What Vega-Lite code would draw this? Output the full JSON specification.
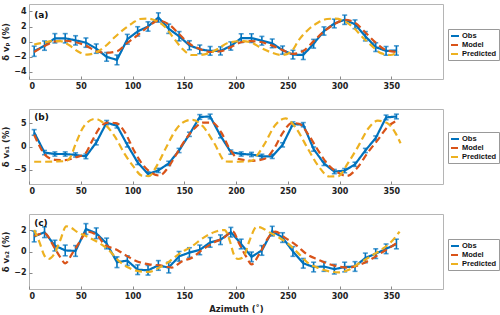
{
  "$schema": "https://vega.github.io/schema/vega-lite/v6.json",
  "padding": {"left": 1, "top": 3, "right": 0, "bottom": 0},
  "spacing": 17,
  "config": {
    "font": "DejaVu Sans",
    "view": {"stroke": "#b5b5b5", "strokeWidth": 1},
    "axis": {"grid": false, "domain": false, "tickSize": -3, "tickColor": "#888888", "labelPadding": 6, "labelOverlap": false, "labelFontSize": 8, "labelFontWeight": "bold", "labelColor": "#222222", "titleFontSize": 8.5, "titleFontWeight": "bold", "titleColor": "#222222"},
    "axisY": {"titlePadding": 3},
    "axisX": {"titlePadding": 4},
    "legend": {"orient": "none", "legendX": 419, "title": null, "strokeColor": "#999999", "fillColor": "white", "padding": 2, "rowPadding": -1, "labelFont": "Liberation Sans", "labelFontSize": 7.5, "labelFontWeight": "bold", "labelColor": "#111111", "symbolType": "stroke", "symbolStrokeWidth": 2, "symbolSize": 64, "labelOffset": 2, "labelLimit": 60}
  },
  "resolve": {"scale": {"color": "independent", "strokeDash": "independent"}, "legend": {"color": "independent", "strokeDash": "independent"}},
  "vconcat": [
    {
      "width": 414, "height": 75,
      "data": {"values": [
        {"az":5,"v":-1.3,"e":0.68,"s":"Obs"},{"az":15,"v":-0.55,"e":0.62,"s":"Obs"},{"az":25,"v":0.43,"e":0.62,"s":"Obs"},{"az":35,"v":0.43,"e":0.62,"s":"Obs"},{"az":45,"v":0.15,"e":0.62,"s":"Obs"},{"az":55,"v":-0.15,"e":0.62,"s":"Obs"},{"az":65,"v":-0.95,"e":0.62,"s":"Obs"},{"az":75,"v":-2.05,"e":0.58,"s":"Obs"},{"az":85,"v":-2.45,"e":0.65,"s":"Obs"},{"az":95,"v":0.3,"e":0.65,"s":"Obs"},{"az":105,"v":1.35,"e":0.62,"s":"Obs"},{"az":115,"v":2.0,"e":0.62,"s":"Obs"},{"az":125,"v":3.2,"e":0.62,"s":"Obs"},{"az":135,"v":1.7,"e":0.62,"s":"Obs"},{"az":145,"v":0.7,"e":0.62,"s":"Obs"},{"az":155,"v":-0.5,"e":0.6,"s":"Obs"},{"az":165,"v":-1.05,"e":0.58,"s":"Obs"},{"az":175,"v":-1.25,"e":0.58,"s":"Obs"},{"az":185,"v":-1.25,"e":0.55,"s":"Obs"},{"az":195,"v":-0.6,"e":0.55,"s":"Obs"},{"az":205,"v":0.45,"e":0.58,"s":"Obs"},{"az":215,"v":0.45,"e":0.58,"s":"Obs"},{"az":225,"v":0.1,"e":0.58,"s":"Obs"},{"az":235,"v":-0.25,"e":0.58,"s":"Obs"},{"az":245,"v":-1.15,"e":0.55,"s":"Obs"},{"az":255,"v":-1.75,"e":0.58,"s":"Obs"},{"az":265,"v":-1.8,"e":0.6,"s":"Obs"},{"az":275,"v":-0.3,"e":0.58,"s":"Obs"},{"az":285,"v":1.4,"e":0.55,"s":"Obs"},{"az":295,"v":2.4,"e":0.58,"s":"Obs"},{"az":305,"v":2.9,"e":0.62,"s":"Obs"},{"az":315,"v":2.3,"e":0.58,"s":"Obs"},{"az":325,"v":0.7,"e":0.62,"s":"Obs"},{"az":335,"v":-0.75,"e":0.58,"s":"Obs"},{"az":345,"v":-1.25,"e":0.58,"s":"Obs"},{"az":355,"v":-1.2,"e":0.62,"s":"Obs"},
        {"az":5,"v":-1.4,"s":"Model"},{"az":15,"v":-0.6,"s":"Model"},{"az":25,"v":0.0,"s":"Model"},{"az":35,"v":0.1,"s":"Model"},{"az":45,"v":-0.1,"s":"Model"},{"az":55,"v":-0.55,"s":"Model"},{"az":65,"v":-1.3,"s":"Model"},{"az":75,"v":-1.5,"s":"Model"},{"az":85,"v":-1.3,"s":"Model"},{"az":95,"v":-0.2,"s":"Model"},{"az":105,"v":0.85,"s":"Model"},{"az":115,"v":1.95,"s":"Model"},{"az":125,"v":2.8,"s":"Model"},{"az":135,"v":2.3,"s":"Model"},{"az":145,"v":1.0,"s":"Model"},{"az":155,"v":-0.3,"s":"Model"},{"az":165,"v":-1.0,"s":"Model"},{"az":175,"v":-1.4,"s":"Model"},{"az":185,"v":-1.3,"s":"Model"},{"az":195,"v":-0.75,"s":"Model"},{"az":205,"v":-0.1,"s":"Model"},{"az":215,"v":0.05,"s":"Model"},{"az":225,"v":-0.1,"s":"Model"},{"az":235,"v":-0.55,"s":"Model"},{"az":245,"v":-1.15,"s":"Model"},{"az":255,"v":-1.65,"s":"Model"},{"az":265,"v":-1.25,"s":"Model"},{"az":275,"v":0.05,"s":"Model"},{"az":285,"v":1.35,"s":"Model"},{"az":295,"v":2.3,"s":"Model"},{"az":305,"v":2.9,"s":"Model"},{"az":315,"v":2.5,"s":"Model"},{"az":325,"v":1.2,"s":"Model"},{"az":335,"v":-0.15,"s":"Model"},{"az":345,"v":-1.15,"s":"Model"},{"az":355,"v":-1.4,"s":"Model"},
        {"az":5,"v":-0.4,"s":"Predicted"},{"az":14,"v":-0.15,"s":"Predicted"},{"az":23,"v":0.05,"s":"Predicted"},{"az":30,"v":0.05,"s":"Predicted"},{"az":39,"v":-0.5,"s":"Predicted"},{"az":47,"v":-1.3,"s":"Predicted"},{"az":56,"v":-1.75,"s":"Predicted"},{"az":65,"v":-1.45,"s":"Predicted"},{"az":74,"v":-0.6,"s":"Predicted"},{"az":83,"v":0.6,"s":"Predicted"},{"az":91,"v":1.55,"s":"Predicted"},{"az":100,"v":2.45,"s":"Predicted"},{"az":107,"v":3.0,"s":"Predicted"},{"az":115,"v":3.05,"s":"Predicted"},{"az":122,"v":2.8,"s":"Predicted"},{"az":131,"v":2.0,"s":"Predicted"},{"az":139,"v":0.6,"s":"Predicted"},{"az":148,"v":-0.95,"s":"Predicted"},{"az":157,"v":-1.8,"s":"Predicted"},{"az":165,"v":-1.8,"s":"Predicted"},{"az":174,"v":-1.55,"s":"Predicted"},{"az":183,"v":-0.95,"s":"Predicted"},{"az":192,"v":-0.2,"s":"Predicted"},{"az":206,"v":0.05,"s":"Predicted"},{"az":215,"v":-0.15,"s":"Predicted"},{"az":224,"v":-0.85,"s":"Predicted"},{"az":234,"v":-1.45,"s":"Predicted"},{"az":244,"v":-1.8,"s":"Predicted"},{"az":253,"v":-1.4,"s":"Predicted"},{"az":261,"v":0.25,"s":"Predicted"},{"az":270,"v":1.6,"s":"Predicted"},{"az":279,"v":2.5,"s":"Predicted"},{"az":288,"v":3.0,"s":"Predicted"},{"az":296,"v":3.05,"s":"Predicted"},{"az":305,"v":2.7,"s":"Predicted"},{"az":314,"v":1.8,"s":"Predicted"},{"az":322,"v":0.6,"s":"Predicted"},{"az":331,"v":-0.55,"s":"Predicted"},{"az":340,"v":-1.55,"s":"Predicted"},{"az":349,"v":-1.8,"s":"Predicted"},{"az":357,"v":-1.35,"s":"Predicted"}
      ]},
      "layer": [
        {"transform": [{"filter": "datum.s == 'Obs'"}], "mark": {"type": "errorbar", "ticks": {"size": 5}, "color": "#0072BD", "thickness": 1.6},
         "encoding": {"x": {"field": "az", "type": "quantitative", "scale": {"domain": [0, 360]}, "axis": {"values": [0,50,100,150,200,250,300,350]}, "title": null}, "y": {"field": "v", "type": "quantitative", "scale": {"domain": [-4.5, 4.5]}, "axis": {"tickCount": 5}, "title": "δ vₚ (%)"}, "yError": {"field": "e"}}},
        {"transform": [{"filter": "datum.s == 'Obs'"}], "mark": {"type": "line", "strokeWidth": 2.2},
         "encoding": {"x": {"field": "az", "type": "quantitative", "title": null}, "y": {"field": "v", "type": "quantitative", "title": "δ vₚ (%)"},
          "color": {"field": "s", "type": "nominal", "scale": {"domain": ["Obs","Model","Predicted"], "range": ["#0072BD","#D95319","#EDB120"]}, "legend": {"legendY": 25}},
          "strokeDash": {"field": "s", "type": "nominal", "scale": {"domain": ["Obs","Model","Predicted"], "range": [[1,0],[7,4],[7,4]]}, "legend": {"legendY": 25}}}},
        {"transform": [{"filter": "datum.s != 'Obs'"}], "mark": {"type": "line", "strokeWidth": 2.2, "interpolate": "monotone"},
         "encoding": {"x": {"field": "az", "type": "quantitative", "title": null}, "y": {"field": "v", "type": "quantitative", "title": "δ vₚ (%)"},
          "color": {"field": "s", "type": "nominal"},
          "strokeDash": {"field": "s", "type": "nominal"}}},
        {"data": {"values": [{"lab": "(a)"}]}, "mark": {"type": "text", "align": "left", "baseline": "middle", "fontWeight": "bold", "fontSize": 9, "color": "#111111"},
         "encoding": {"text": {"field": "lab"}, "x": {"datum": 5}, "y": {"datum": 3.5}}}
      ]
    },
    {
      "width": 414, "height": 75,
      "data": {"values": [
        {"az":5,"v":3.0,"e":0.6,"s":"Obs"},{"az":15,"v":-1.3,"e":0.45,"s":"Obs"},{"az":25,"v":-1.6,"e":0.45,"s":"Obs"},{"az":35,"v":-1.6,"e":0.45,"s":"Obs"},{"az":45,"v":-1.8,"e":0.45,"s":"Obs"},{"az":55,"v":-2.1,"e":0.5,"s":"Obs"},{"az":65,"v":0.85,"e":0.5,"s":"Obs"},{"az":75,"v":5.1,"e":0.45,"s":"Obs"},{"az":85,"v":4.4,"e":0.45,"s":"Obs"},{"az":95,"v":0.35,"e":0.45,"s":"Obs"},{"az":105,"v":-3.4,"e":0.45,"s":"Obs"},{"az":115,"v":-5.85,"e":0.45,"s":"Obs"},{"az":125,"v":-5.1,"e":0.45,"s":"Obs"},{"az":135,"v":-3.6,"e":0.45,"s":"Obs"},{"az":145,"v":-0.85,"e":0.45,"s":"Obs"},{"az":155,"v":2.6,"e":0.45,"s":"Obs"},{"az":165,"v":6.3,"e":0.5,"s":"Obs"},{"az":175,"v":6.4,"e":0.5,"s":"Obs"},{"az":185,"v":2.3,"e":0.45,"s":"Obs"},{"az":195,"v":-1.2,"e":0.45,"s":"Obs"},{"az":205,"v":-1.6,"e":0.45,"s":"Obs"},{"az":215,"v":-1.7,"e":0.45,"s":"Obs"},{"az":225,"v":-2.1,"e":0.45,"s":"Obs"},{"az":235,"v":-2.1,"e":0.45,"s":"Obs"},{"az":245,"v":0.35,"e":0.45,"s":"Obs"},{"az":255,"v":4.8,"e":0.45,"s":"Obs"},{"az":265,"v":4.65,"e":0.45,"s":"Obs"},{"az":275,"v":-0.55,"e":0.45,"s":"Obs"},{"az":285,"v":-3.6,"e":0.45,"s":"Obs"},{"az":295,"v":-5.35,"e":0.45,"s":"Obs"},{"az":305,"v":-5.15,"e":0.45,"s":"Obs"},{"az":315,"v":-3.8,"e":0.45,"s":"Obs"},{"az":325,"v":-0.85,"e":0.45,"s":"Obs"},{"az":335,"v":1.8,"e":0.45,"s":"Obs"},{"az":345,"v":6.2,"e":0.5,"s":"Obs"},{"az":355,"v":6.4,"e":0.5,"s":"Obs"},
        {"az":5,"v":2.5,"s":"Model"},{"az":17,"v":-2.1,"s":"Model"},{"az":26,"v":-2.85,"s":"Model"},{"az":35,"v":-2.9,"s":"Model"},{"az":45,"v":-2.3,"s":"Model"},{"az":54,"v":-1.6,"s":"Model"},{"az":61,"v":1.2,"s":"Model"},{"az":68,"v":3.9,"s":"Model"},{"az":76,"v":5.1,"s":"Model"},{"az":84,"v":5.0,"s":"Model"},{"az":93,"v":2.9,"s":"Model"},{"az":101,"v":-0.7,"s":"Model"},{"az":110,"v":-3.9,"s":"Model"},{"az":119,"v":-5.7,"s":"Model"},{"az":126,"v":-6.2,"s":"Model"},{"az":135,"v":-4.3,"s":"Model"},{"az":142,"v":-1.8,"s":"Model"},{"az":151,"v":1.4,"s":"Model"},{"az":160,"v":3.9,"s":"Model"},{"az":168,"v":5.1,"s":"Model"},{"az":177,"v":5.1,"s":"Model"},{"az":186,"v":2.9,"s":"Model"},{"az":194,"v":-0.6,"s":"Model"},{"az":203,"v":-2.7,"s":"Model"},{"az":216,"v":-3.05,"s":"Model"},{"az":228,"v":-2.6,"s":"Model"},{"az":237,"v":-0.35,"s":"Model"},{"az":245,"v":2.85,"s":"Model"},{"az":254,"v":5.0,"s":"Model"},{"az":261,"v":4.85,"s":"Model"},{"az":270,"v":2.5,"s":"Model"},{"az":279,"v":-0.7,"s":"Model"},{"az":289,"v":-3.9,"s":"Model"},{"az":298,"v":-5.5,"s":"Model"},{"az":307,"v":-6.3,"s":"Model"},{"az":317,"v":-4.6,"s":"Model"},{"az":327,"v":-1.4,"s":"Model"},{"az":337,"v":1.4,"s":"Model"},{"az":347,"v":4.3,"s":"Model"},{"az":354,"v":5.35,"s":"Model"},
        {"az":5,"v":-3.25,"s":"Predicted"},{"az":15,"v":-3.25,"s":"Predicted"},{"az":25,"v":-3.2,"s":"Predicted"},{"az":36,"v":-3.1,"s":"Predicted"},{"az":40,"v":-2.3,"s":"Predicted"},{"az":45,"v":0.5,"s":"Predicted"},{"az":53,"v":4.3,"s":"Predicted"},{"az":64,"v":5.9,"s":"Predicted"},{"az":74,"v":4.6,"s":"Predicted"},{"az":83,"v":2.1,"s":"Predicted"},{"az":93,"v":-1.8,"s":"Predicted"},{"az":101,"v":-4.3,"s":"Predicted"},{"az":109,"v":-6.2,"s":"Predicted"},{"az":116,"v":-6.3,"s":"Predicted"},{"az":123,"v":-4.3,"s":"Predicted"},{"az":133,"v":0.0,"s":"Predicted"},{"az":142,"v":3.6,"s":"Predicted"},{"az":151,"v":5.4,"s":"Predicted"},{"az":158,"v":5.7,"s":"Predicted"},{"az":168,"v":4.3,"s":"Predicted"},{"az":179,"v":0.7,"s":"Predicted"},{"az":190,"v":-3.2,"s":"Predicted"},{"az":200,"v":-3.25,"s":"Predicted"},{"az":208,"v":-3.2,"s":"Predicted"},{"az":215,"v":-3.1,"s":"Predicted"},{"az":220,"v":-2.0,"s":"Predicted"},{"az":228,"v":0.7,"s":"Predicted"},{"az":238,"v":4.6,"s":"Predicted"},{"az":248,"v":6.0,"s":"Predicted"},{"az":258,"v":3.9,"s":"Predicted"},{"az":270,"v":-0.7,"s":"Predicted"},{"az":280,"v":-4.3,"s":"Predicted"},{"az":290,"v":-6.4,"s":"Predicted"},{"az":299,"v":-6.3,"s":"Predicted"},{"az":308,"v":-3.6,"s":"Predicted"},{"az":318,"v":0.0,"s":"Predicted"},{"az":328,"v":3.9,"s":"Predicted"},{"az":337,"v":5.5,"s":"Predicted"},{"az":346,"v":5.0,"s":"Predicted"},{"az":354,"v":2.9,"s":"Predicted"},{"az":359,"v":0.7,"s":"Predicted"}
      ]},
      "layer": [
        {"transform": [{"filter": "datum.s == 'Obs'"}], "mark": {"type": "errorbar", "ticks": {"size": 5}, "color": "#0072BD", "thickness": 1.6},
         "encoding": {"x": {"field": "az", "type": "quantitative", "scale": {"domain": [0, 360]}, "axis": {"values": [0,50,100,150,200,250,300,350]}, "title": null}, "y": {"field": "v", "type": "quantitative", "scale": {"domain": [-8, 8]}, "axis": {"tickCount": 3}, "title": "δ vₛ₁ (%)"}, "yError": {"field": "e"}}},
        {"transform": [{"filter": "datum.s == 'Obs'"}], "mark": {"type": "line", "strokeWidth": 2.2},
         "encoding": {"x": {"field": "az", "type": "quantitative", "title": null}, "y": {"field": "v", "type": "quantitative", "title": "δ vₛ₁ (%)"},
          "color": {"field": "s", "type": "nominal", "scale": {"domain": ["Obs","Model","Predicted"], "range": ["#0072BD","#D95319","#EDB120"]}, "legend": {"legendY": 23}},
          "strokeDash": {"field": "s", "type": "nominal", "scale": {"domain": ["Obs","Model","Predicted"], "range": [[1,0],[7,4],[7,4]]}, "legend": {"legendY": 23}}}},
        {"transform": [{"filter": "datum.s != 'Obs'"}], "mark": {"type": "line", "strokeWidth": 2.2, "interpolate": "monotone"},
         "encoding": {"x": {"field": "az", "type": "quantitative", "title": null}, "y": {"field": "v", "type": "quantitative", "title": "δ vₛ₁ (%)"},
          "color": {"field": "s", "type": "nominal"},
          "strokeDash": {"field": "s", "type": "nominal"}}},
        {"data": {"values": [{"lab": "(b)"}]}, "mark": {"type": "text", "align": "left", "baseline": "middle", "fontWeight": "bold", "fontSize": 9, "color": "#111111"},
         "encoding": {"text": {"field": "lab"}, "x": {"datum": 5}, "y": {"datum": 6.4}}}
      ]
    },
    {
      "width": 414, "height": 75,
      "data": {"values": [
        {"az":5,"v":1.4,"e":0.5,"s":"Obs"},{"az":15,"v":1.8,"e":0.5,"s":"Obs"},{"az":25,"v":0.55,"e":0.5,"s":"Obs"},{"az":35,"v":0.1,"e":0.5,"s":"Obs"},{"az":45,"v":0.05,"e":0.5,"s":"Obs"},{"az":55,"v":2.1,"e":0.5,"s":"Obs"},{"az":65,"v":1.7,"e":0.5,"s":"Obs"},{"az":75,"v":0.75,"e":0.5,"s":"Obs"},{"az":85,"v":-1.0,"e":0.5,"s":"Obs"},{"az":95,"v":-0.85,"e":0.45,"s":"Obs"},{"az":105,"v":-1.7,"e":0.45,"s":"Obs"},{"az":115,"v":-1.75,"e":0.45,"s":"Obs"},{"az":125,"v":-1.3,"e":0.45,"s":"Obs"},{"az":135,"v":-1.5,"e":0.5,"s":"Obs"},{"az":145,"v":-0.45,"e":0.45,"s":"Obs"},{"az":155,"v":-0.1,"e":0.45,"s":"Obs"},{"az":165,"v":0.15,"e":0.45,"s":"Obs"},{"az":175,"v":0.85,"e":0.45,"s":"Obs"},{"az":185,"v":1.1,"e":0.45,"s":"Obs"},{"az":195,"v":1.8,"e":0.45,"s":"Obs"},{"az":205,"v":0.7,"e":0.45,"s":"Obs"},{"az":215,"v":-0.5,"e":0.45,"s":"Obs"},{"az":225,"v":0.1,"e":0.45,"s":"Obs"},{"az":235,"v":1.9,"e":0.45,"s":"Obs"},{"az":245,"v":1.3,"e":0.45,"s":"Obs"},{"az":255,"v":0.0,"e":0.45,"s":"Obs"},{"az":265,"v":-1.1,"e":0.45,"s":"Obs"},{"az":275,"v":-1.45,"e":0.45,"s":"Obs"},{"az":285,"v":-1.4,"e":0.45,"s":"Obs"},{"az":295,"v":-1.65,"e":0.45,"s":"Obs"},{"az":305,"v":-1.45,"e":0.45,"s":"Obs"},{"az":315,"v":-1.4,"e":0.45,"s":"Obs"},{"az":325,"v":-0.6,"e":0.45,"s":"Obs"},{"az":335,"v":-0.2,"e":0.45,"s":"Obs"},{"az":345,"v":0.25,"e":0.45,"s":"Obs"},{"az":355,"v":0.7,"e":0.45,"s":"Obs"},
        {"az":5,"v":1.45,"s":"Model"},{"az":15,"v":1.7,"s":"Model"},{"az":24,"v":0.45,"s":"Model"},{"az":30,"v":-0.5,"s":"Model"},{"az":35,"v":-1.1,"s":"Model"},{"az":42,"v":-0.15,"s":"Model"},{"az":49,"v":0.9,"s":"Model"},{"az":56,"v":1.85,"s":"Model"},{"az":66,"v":1.5,"s":"Model"},{"az":72,"v":0.75,"s":"Model"},{"az":86,"v":0.1,"s":"Model"},{"az":96,"v":-0.5,"s":"Model"},{"az":104,"v":-0.9,"s":"Model"},{"az":116,"v":-1.2,"s":"Model"},{"az":127,"v":-1.3,"s":"Model"},{"az":138,"v":-1.5,"s":"Model"},{"az":148,"v":-0.9,"s":"Model"},{"az":157,"v":-0.6,"s":"Model"},{"az":168,"v":0.2,"s":"Model"},{"az":180,"v":0.9,"s":"Model"},{"az":187,"v":1.2,"s":"Model"},{"az":197,"v":1.85,"s":"Model"},{"az":203,"v":0.75,"s":"Model"},{"az":210,"v":-0.5,"s":"Model"},{"az":215,"v":-1.2,"s":"Model"},{"az":223,"v":-0.15,"s":"Model"},{"az":232,"v":1.4,"s":"Model"},{"az":238,"v":1.85,"s":"Model"},{"az":248,"v":1.25,"s":"Model"},{"az":258,"v":0.6,"s":"Model"},{"az":269,"v":-0.3,"s":"Model"},{"az":279,"v":-0.75,"s":"Model"},{"az":289,"v":-1.15,"s":"Model"},{"az":299,"v":-1.4,"s":"Model"},{"az":309,"v":-1.5,"s":"Model"},{"az":319,"v":-1.25,"s":"Model"},{"az":330,"v":-0.75,"s":"Model"},{"az":340,"v":-0.15,"s":"Model"},{"az":350,"v":0.45,"s":"Model"},{"az":357,"v":0.9,"s":"Model"},
        {"az":5,"v":2.0,"s":"Predicted"},{"az":10,"v":0.9,"s":"Predicted"},{"az":15,"v":-0.4,"s":"Predicted"},{"az":19,"v":-0.7,"s":"Predicted"},{"az":24,"v":-0.3,"s":"Predicted"},{"az":30,"v":1.0,"s":"Predicted"},{"az":36,"v":2.35,"s":"Predicted"},{"az":41,"v":2.2,"s":"Predicted"},{"az":46,"v":1.85,"s":"Predicted"},{"az":56,"v":1.4,"s":"Predicted"},{"az":66,"v":0.9,"s":"Predicted"},{"az":77,"v":0.15,"s":"Predicted"},{"az":87,"v":-0.9,"s":"Predicted"},{"az":97,"v":-1.55,"s":"Predicted"},{"az":107,"v":-1.85,"s":"Predicted"},{"az":116,"v":-1.9,"s":"Predicted"},{"az":126,"v":-1.5,"s":"Predicted"},{"az":136,"v":-0.9,"s":"Predicted"},{"az":146,"v":-0.15,"s":"Predicted"},{"az":157,"v":0.45,"s":"Predicted"},{"az":168,"v":1.25,"s":"Predicted"},{"az":180,"v":1.85,"s":"Predicted"},{"az":189,"v":2.0,"s":"Predicted"},{"az":194,"v":1.0,"s":"Predicted"},{"az":198,"v":-0.3,"s":"Predicted"},{"az":202,"v":-0.7,"s":"Predicted"},{"az":207,"v":-0.55,"s":"Predicted"},{"az":213,"v":1.0,"s":"Predicted"},{"az":220,"v":2.3,"s":"Predicted"},{"az":225,"v":2.2,"s":"Predicted"},{"az":231,"v":1.85,"s":"Predicted"},{"az":240,"v":1.4,"s":"Predicted"},{"az":250,"v":0.75,"s":"Predicted"},{"az":260,"v":-0.15,"s":"Predicted"},{"az":270,"v":-1.1,"s":"Predicted"},{"az":280,"v":-1.55,"s":"Predicted"},{"az":290,"v":-1.85,"s":"Predicted"},{"az":299,"v":-1.95,"s":"Predicted"},{"az":309,"v":-1.7,"s":"Predicted"},{"az":319,"v":-1.1,"s":"Predicted"},{"az":330,"v":-0.45,"s":"Predicted"},{"az":340,"v":0.15,"s":"Predicted"},{"az":350,"v":0.9,"s":"Predicted"},{"az":358,"v":1.85,"s":"Predicted"}
      ]},
      "layer": [
        {"transform": [{"filter": "datum.s == 'Obs'"}], "mark": {"type": "errorbar", "ticks": {"size": 5}, "color": "#0072BD", "thickness": 1.6},
         "encoding": {"x": {"field": "az", "type": "quantitative", "scale": {"domain": [0, 360]}, "axis": {"values": [0,50,100,150,200,250,300,350]}, "title": "Azimuth (˚)"}, "y": {"field": "v", "type": "quantitative", "scale": {"domain": [-3.5, 3.5]}, "axis": {"tickCount": 3}, "title": "δ vₛ₂ (%)"}, "yError": {"field": "e"}}},
        {"transform": [{"filter": "datum.s == 'Obs'"}], "mark": {"type": "line", "strokeWidth": 2.2},
         "encoding": {"x": {"field": "az", "type": "quantitative", "title": "Azimuth (˚)"}, "y": {"field": "v", "type": "quantitative", "title": "δ vₛ₂ (%)"},
          "color": {"field": "s", "type": "nominal", "scale": {"domain": ["Obs","Model","Predicted"], "range": ["#0072BD","#D95319","#EDB120"]}, "legend": {"legendY": 25}},
          "strokeDash": {"field": "s", "type": "nominal", "scale": {"domain": ["Obs","Model","Predicted"], "range": [[1,0],[7,4],[7,4]]}, "legend": {"legendY": 25}}}},
        {"transform": [{"filter": "datum.s != 'Obs'"}], "mark": {"type": "line", "strokeWidth": 2.2, "interpolate": "monotone"},
         "encoding": {"x": {"field": "az", "type": "quantitative", "title": "Azimuth (˚)"}, "y": {"field": "v", "type": "quantitative", "title": "δ vₛ₂ (%)"},
          "color": {"field": "s", "type": "nominal"},
          "strokeDash": {"field": "s", "type": "nominal"}}},
        {"data": {"values": [{"lab": "(c)"}]}, "mark": {"type": "text", "align": "left", "baseline": "middle", "fontWeight": "bold", "fontSize": 9, "color": "#111111"},
         "encoding": {"text": {"field": "lab"}, "x": {"datum": 5}, "y": {"datum": 2.7}}}
      ]
    }
  ]
}
